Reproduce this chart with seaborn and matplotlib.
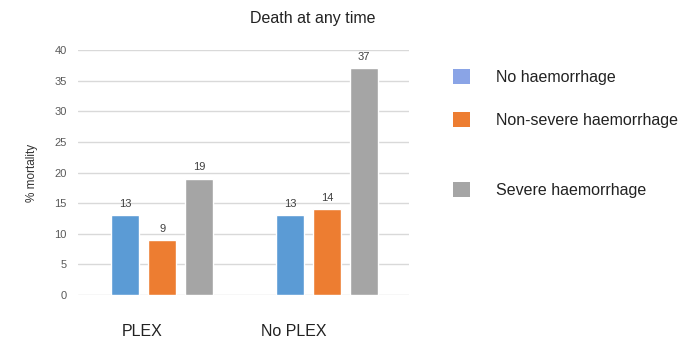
import matplotlib
matplotlib.use("Agg")
import matplotlib.pyplot as plt
from matplotlib.patches import Patch
import pandas as pd
import seaborn as sns

groups = ["PLEX", "No PLEX"]
series = ["No haemorrhage", "Non-severe haemorrhage", "Severe haemorrhage"]
no_haem = [13, 13]
non_severe = [9, 14]
severe = [19, 37]

bar_colors = ["#5b9bd5", "#ed7d31", "#a5a5a5"]
legend_colors = ["#8aa4e6", "#ed7d31", "#a5a5a5"]

rows = []
for name, vals in zip(series, [no_haem, non_severe, severe]):
    for g, v in zip(groups, vals):
        rows.append({"group": g, "series": name, "value": v})
df = pd.DataFrame(rows)

sns.set_theme(style="white")
plt.rcParams["font.family"] = ["Liberation Sans", "DejaVu Sans"]

fig = plt.figure(figsize=(6.97, 3.40), dpi=100)
ax = fig.add_axes([0.112, 0.132, 0.475, 0.721])

sns.barplot(data=df, x="group", y="value", hue="series", order=groups,
            hue_order=series, palette=bar_colors, width=0.67, gap=0.24,
            saturation=1, legend=False, ax=ax)

for cont in ax.containers:
    ax.bar_label(cont, fmt="%d", padding=4.5, fontsize=8, color="#404040")

ax.set_ylim(0, 40)
ax.set_xlim(-0.51, 1.5)
ax.set_yticks(range(0, 41, 5))
ax.yaxis.grid(True, color="#d9d9d9", linewidth=1)
ax.set_axisbelow(True)
for s in ax.spines.values():
    s.set_visible(False)
ax.tick_params(axis="y", length=0, pad=8, labelsize=8, labelcolor="#595959")
ax.tick_params(axis="x", length=0, pad=21, labelsize=11.5, labelcolor="#222222")
for lab in ax.get_xticklabels():
    lab.set_ha("right")
ax.set_xlabel("")
ax.set_ylabel("% mortality", fontsize=8.5, color="#333333", labelpad=12)

fig.text(0.448, 0.947, "Death at any time", ha="center", va="center",
         fontsize=11.5, color="#222222")

# legend entries with uneven vertical spacing
legend_y = [0.774, 0.647, 0.44]
for name, col, y in zip(series, legend_colors, legend_y):
    fig.legend(handles=[Patch(facecolor=col, edgecolor="none")], labels=[name],
               loc="center left", bbox_to_anchor=(0.63, y), frameon=False,
               fontsize=11.5, handlelength=1.05, handleheight=1.05,
               handletextpad=1.6, labelcolor="#222222")

fig.savefig("out.png", dpi=100)
